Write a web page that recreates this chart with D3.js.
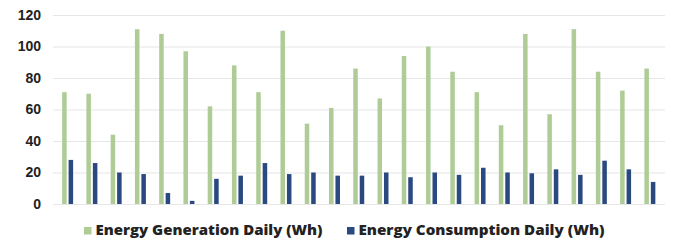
<!DOCTYPE html>
<html lang="en">
<head>
  <meta charset="UTF-8">
  <title>Energy Generation vs Consumption</title>
  <style>
    html, body { margin: 0; padding: 0; background: #fff; overflow: hidden; }
    svg { display: block; }
    .tick text { font-family: "Liberation Sans", Arial, sans-serif; font-weight: bold; font-size: 14px; fill: #222; }
    .legend text { font-family: "Open Sans", sans-serif; font-weight: 800; font-size: 14px; fill: #222; }
  </style>
</head>
<body>
  <svg id="chart" width="673" height="242"></svg>
  <script src="https://d3js.org/d3.v7.min.js"></script>
  <script>
    // values, one per day
    const days = d3.range(1, 26);
    const generation = [71, 70, 44, 111, 108, 97, 62, 88, 71, 110, 51, 61, 86, 67, 94, 100, 84, 71, 50, 108, 57, 111, 84, 72, 86];
    const consumption = [28, 26, 20, 19, 7, 2, 16, 18, 26, 19, 20, 18, 18, 20, 17, 20, 18.5, 23, 20, 19.5, 22, 18.5, 27.5, 22, 14];
    const seriesNames = ["Energy Generation Daily (Wh)", "Energy Consumption Daily (Wh)"];
    const yTicks = [0, 20, 40, 60, 80, 100, 120];

    const colors = ["#afcc97", "#2a4980"];
    const svg = d3.select("#chart");

    const x = d3.scaleBand().domain(days).range([55.5, 662]);
    const x1 = d3.scaleBand().domain([0, 1]).range([0, x.bandwidth()])
      .paddingInner(0.3).paddingOuter(1.03);
    const y = d3.scaleLinear().domain([0, 120]).range([204, 15]);

    // gridlines
    svg.append("g").selectAll("line")
      .data(yTicks)
      .enter().append("line")
      .attr("x1", 53).attr("x2", 665)
      .attr("y1", d => y(d) + 0.5).attr("y2", d => y(d) + 0.5)
      .attr("stroke", "#e6e6e6").attr("stroke-width", 1.2);

    // y axis labels
    const yAxis = svg.append("g")
      .attr("transform", "translate(41,0)")
      .call(d3.axisLeft(y).tickValues(yTicks).tickSize(0).tickPadding(0));
    yAxis.select(".domain").remove();

    // bars
    const rows = days.map((d, i) => ({ day: d, vals: [generation[i], consumption[i]] }));
    const groups = svg.append("g").selectAll("g")
      .data(rows)
      .enter().append("g")
      .attr("transform", d => `translate(${x(d.day)},0)`);
    groups.selectAll("rect")
      .data(d => d.vals.map((v, k) => ({ k, v })))
      .enter().append("rect")
      .attr("x", d => x1(d.k))
      .attr("width", x1.bandwidth())
      .attr("y", d => y(d.v))
      .attr("height", d => y(0) - y(d.v))
      .attr("fill", d => colors[d.k]);

    // legend
    const legend = svg.append("g").attr("class", "legend");
    const legendX = [84, 347];
    const textLen = [227, 246];
    seriesNames.forEach((name, k) => {
      const lg = legend.append("g").attr("transform", `translate(${legendX[k]},227)`);
      lg.append("rect").attr("width", 7.5).attr("height", 7.5).attr("fill", colors[k]);
      lg.append("text").attr("x", 11.5).attr("y", 8.3)
        .attr("textLength", textLen[k]).attr("lengthAdjust", "spacingAndGlyphs")
        .text(name);
    });
  </script>
</body>
</html>
